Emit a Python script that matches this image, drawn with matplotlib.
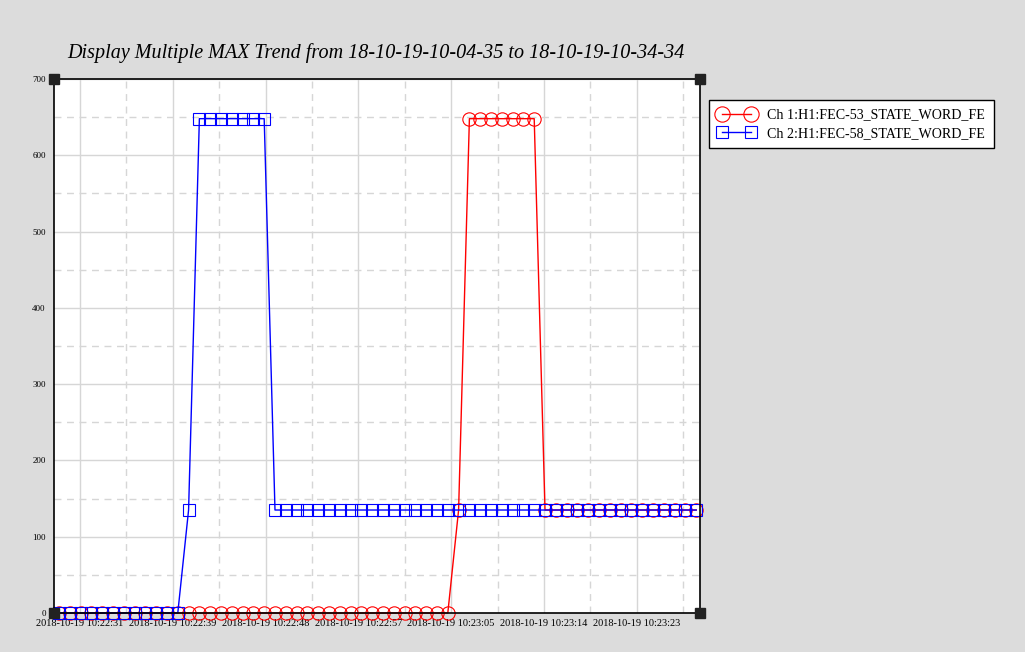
import numpy as np
import matplotlib
matplotlib.use("Agg")
import matplotlib.pyplot as plt
from matplotlib.lines import Line2D

# samples: one per second from the start of the window
t_sec = np.arange(60)

# Ch 1 (red circles) and Ch 2 (blue squares) values
ch1_vals = [0] * 37 + [135] + [648] * 7 + [135] * 15
ch2_vals = [0] * 12 + [135] + [648] * 7 + [135] * 40

ch1_label = "Ch 1:H1:FEC-53_STATE_WORD_FE"
ch2_label = "Ch 2:H1:FEC-58_STATE_WORD_FE"

x_tick_labels = [
    "2018-10-19 10:22:31", "2018-10-19 10:22:39", "2018-10-19 10:22:48",
    "2018-10-19 10:22:57", "2018-10-19 10:23:05", "2018-10-19 10:23:14",
    "2018-10-19 10:23:23",
]
y_ticks = [0, 100, 200, 300, 400, 500, 600, 700]

title = "Display Multiple MAX Trend from 18-10-19-10-04-35 to 18-10-19-10-34-34"

plt.rcParams['font.family'] = ['Liberation Serif', 'DejaVu Serif']

fig = plt.figure(figsize=(10.25, 6.52), dpi=100, facecolor='#dcdcdc')
ax = fig.add_axes([54 / 1025, 1 - 613 / 652, 646 / 1025, 534 / 652])
ax.set_facecolor('white')

# grid: solid at major ticks, dashed half way between
x_major = np.linspace(1.94, 53.5, 7)
x_minor = x_major + (x_major[1] - x_major[0]) / 2
for xv in x_major:
    ax.axvline(xv, color='#d6d6d6', lw=1, zorder=0)
for xv in x_minor:
    ax.axvline(xv, color='#d6d6d6', lw=1, ls=(0, (5, 4)), zorder=0)
for yv in y_ticks:
    ax.axhline(yv, color='#d6d6d6', lw=1, zorder=0)
for yv in np.array(y_ticks[:-1]) + 50:
    ax.axhline(yv, color='#d6d6d6', lw=1, ls=(0, (5, 4)), zorder=0)

ax.plot(t_sec, ch1_vals, color='red', lw=1, marker='o', ms=9.6,
        mfc='none', mec='red', mew=0.8, clip_on=False, zorder=2)
ax.plot(t_sec, ch2_vals, color='blue', lw=1, marker='s', ms=8.8,
        mfc='none', mec='blue', mew=0.8, clip_on=False, zorder=2.1)

ax.set_xlim(-0.46, 59.35)
ax.set_ylim(0, 700)
ax.set_xticks(x_major)
ax.set_xticklabels(x_tick_labels, fontsize=7.5)
ax.set_yticks(y_ticks)
ax.set_yticklabels([str(v) for v in y_ticks], fontsize=6.5)
ax.tick_params(axis='both', length=0)
ax.tick_params(axis='x', pad=4)
ax.tick_params(axis='y', pad=6)
for s in ax.spines.values():
    s.set_color('black')
    s.set_linewidth(1.2)
    s.set_zorder(3)

# little dark squares on the plot corners
ax.plot([0, 1, 0, 1], [0, 0, 1, 1], transform=ax.transAxes, ls='none',
        marker='s', ms=6.5, color='#222222', clip_on=False, zorder=4)

fig.text(376 / 1025, 1 - 53 / 652, title, ha='center', va='center',
         fontsize=14.5, style='italic')

handles = [
    Line2D([], [], color='red', lw=1, marker='o', ms=11, mfc='none', mec='red', mew=0.8),
    Line2D([], [], color='blue', lw=1, marker='s', ms=9, mfc='none', mec='blue', mew=0.8),
]
leg = ax.legend(handles, [ch1_label, ch2_label], loc='upper left',
                bbox_to_anchor=(709 / 1025, 1 - 100 / 652),
                bbox_transform=fig.transFigure, borderaxespad=0,
                numpoints=2, handlelength=2.7, fontsize=10.1,
                fancybox=False, framealpha=1, edgecolor='black',
                borderpad=0.6, labelspacing=0.4, handletextpad=0.85)
leg.get_frame().set_linewidth(1)

fig.savefig("out.png", dpi=100, facecolor=fig.get_facecolor())
